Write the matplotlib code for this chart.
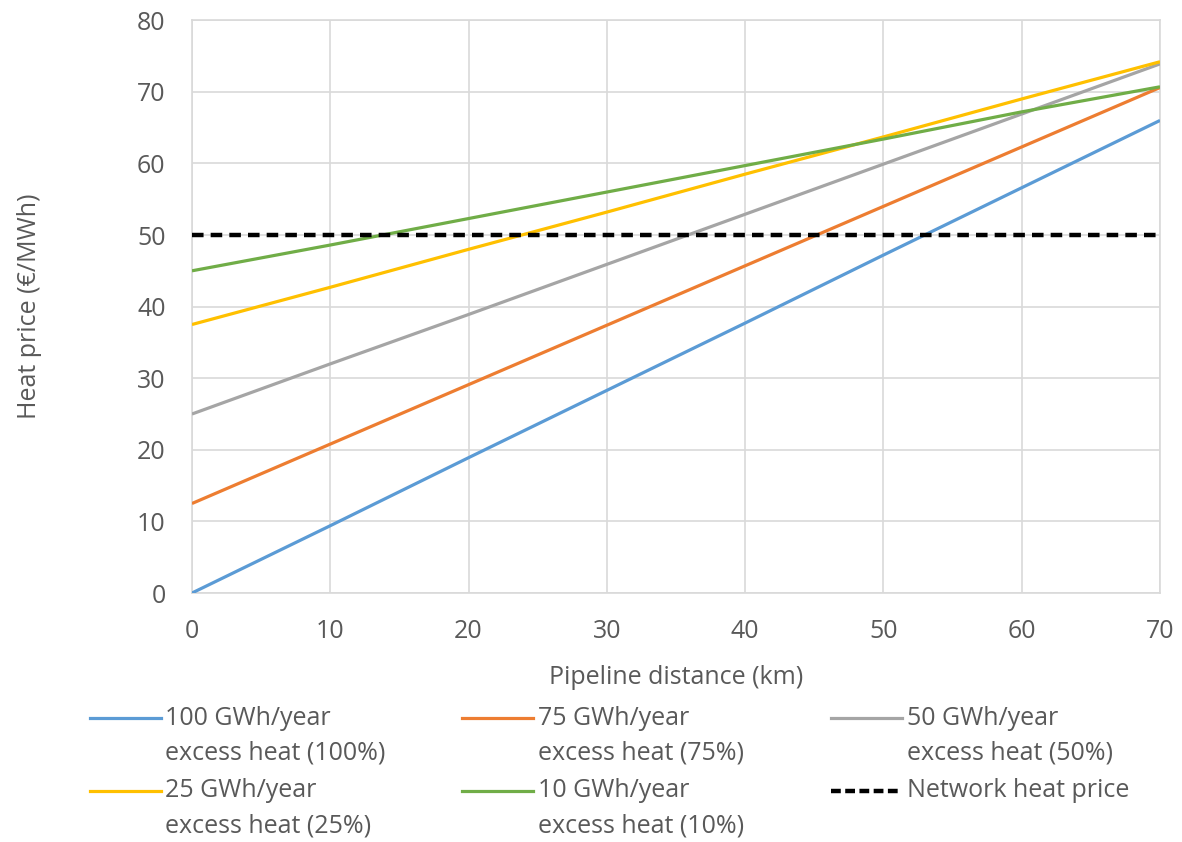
import matplotlib.pyplot as plt
from matplotlib.lines import Line2D

plt.rcParams['font.family'] = ['Open Sans', 'DejaVu Sans']

# data
distance = [0, 10, 20, 30, 40, 50, 60, 70]
heat_100 = [0, 9.4, 18.9, 28.3, 37.7, 47.2, 56.6, 66.0]
heat_75 = [12.5, 20.8, 29.1, 37.4, 45.7, 54.0, 62.3, 70.6]
heat_50 = [25.0, 32.0, 38.9, 45.9, 52.9, 59.9, 66.9, 73.9]
heat_25 = [37.5, 42.7, 48.0, 53.2, 58.5, 63.7, 69.0, 74.2]
heat_10 = [45.0, 48.6, 52.3, 56.0, 59.7, 63.4, 67.2, 70.7]
network = [50, 50, 50, 50, 50, 50, 50, 50]

labels = ["100 GWh/year\nexcess heat (100%)", "75 GWh/year\nexcess heat (75%)",
          "50 GWh/year\nexcess heat (50%)", "25 GWh/year\nexcess heat (25%)",
          "10 GWh/year\nexcess heat (10%)", "Network heat price"]
colors = ["#5b9bd5", "#ed7d31", "#a5a5a5", "#ffc000", "#70ad47", "#000000"]
series = [heat_100, heat_75, heat_50, heat_25, heat_10, network]

txt = "#595959"
grid = "#d9d9d9"
fs = 18

fig = plt.figure(figsize=(11.82, 8.42), dpi=100)
ax = fig.add_axes([0.1624, 0.2957, 0.819, 0.6803])

for i, (vals, c) in enumerate(zip(series, colors)):
    if i == 5:
        ax.plot(distance, vals, color=c, lw=3.2, ls=(0, (2.6, 1.6)), zorder=3)
    else:
        ax.plot(distance, vals, color=c, lw=2.3, zorder=3, solid_capstyle='butt')

ax.set_xlim(0, 70)
ax.set_ylim(0, 80)
ax.set_xticks(range(0, 71, 10))
ax.set_yticks(range(0, 81, 10))
ax.grid(True, color=grid, lw=1.2)
ax.set_axisbelow(True)
for s in ax.spines.values():
    s.set_color(grid)
    s.set_linewidth(1.2)
ax.tick_params(axis='y', length=0, labelsize=fs, labelcolor=txt, pad=19)
ax.tick_params(axis='x', length=0, labelsize=fs, labelcolor=txt, pad=19)
ax.set_xlabel("Pipeline distance (km)", fontsize=fs, color=txt, labelpad=15)
ax.set_ylabel("Heat price (€/MWh)", fontsize=fs, color=txt, labelpad=68)

# legend, drawn by hand so the line sits level with the first text row
col_x = [0.076, 0.391, 0.703]
row_y = [0.147, 0.0606]
line_gap = 0.0416
for i, (lab, c) in enumerate(zip(labels, colors)):
    x0 = col_x[i % 3]
    y0 = row_y[i // 3]
    if i == 5:
        fig.add_artist(Line2D([x0, x0 + 0.06], [y0, y0], color=c, lw=3.2,
                              ls=(0, (2.2, 1.0)), transform=fig.transFigure))
    else:
        fig.add_artist(Line2D([x0, x0 + 0.06], [y0, y0], color=c, lw=2.3,
                              transform=fig.transFigure))
    for k, p in enumerate(lab.split("\n")):
        fig.text(x0 + 0.064, y0 - k * line_gap, p, fontsize=fs, color=txt,
                 va='center', ha='left')

fig.savefig("out.png", dpi=100)
